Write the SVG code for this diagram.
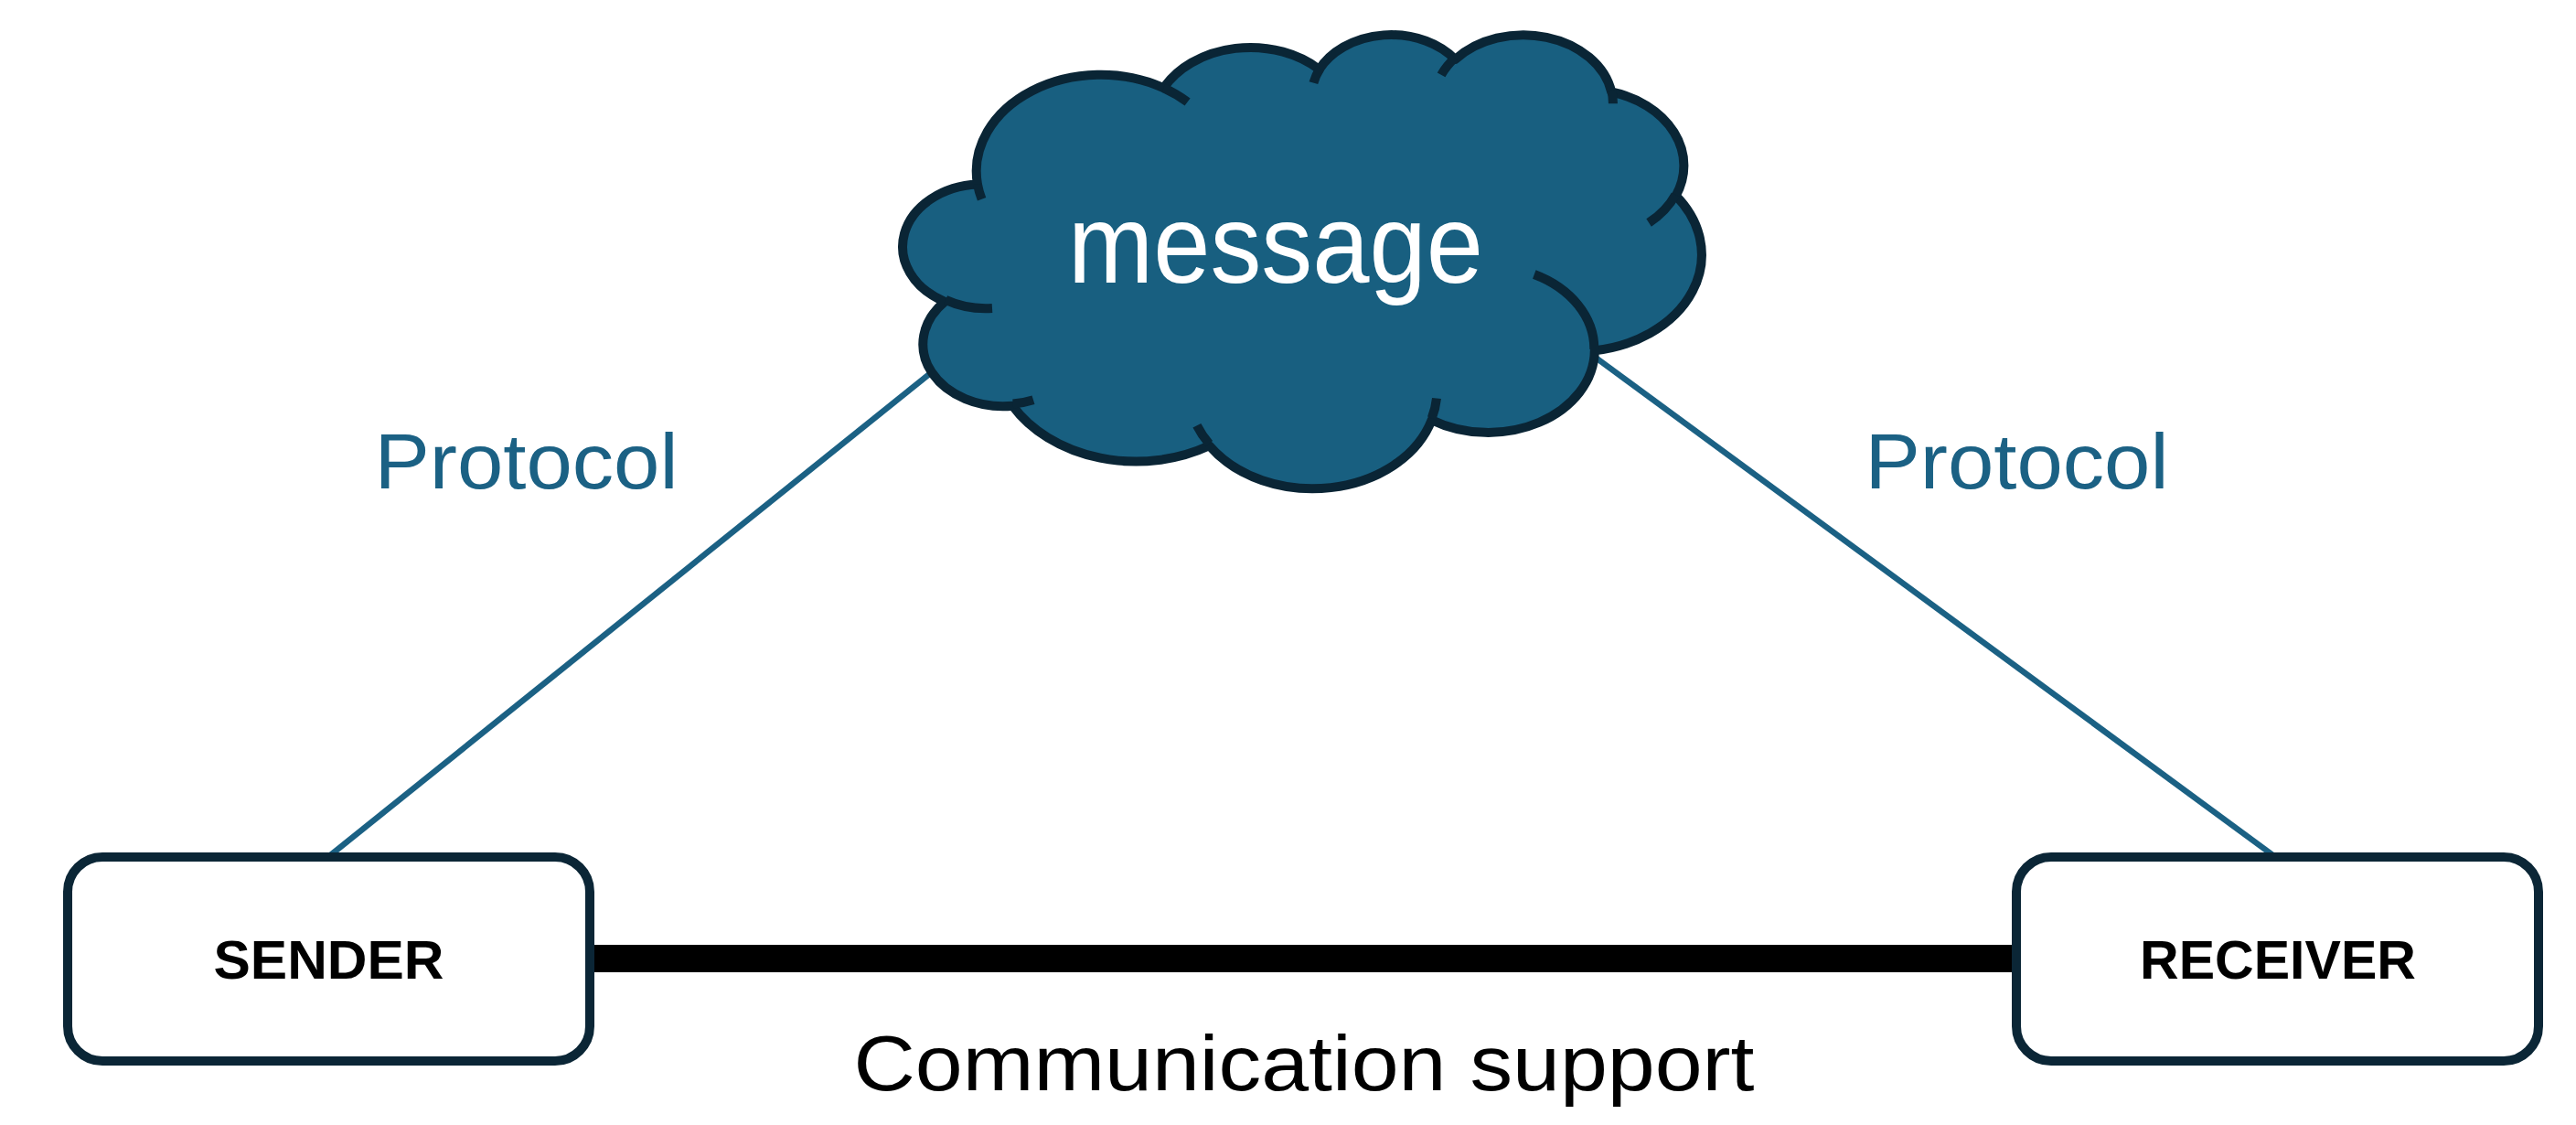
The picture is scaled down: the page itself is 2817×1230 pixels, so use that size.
<svg xmlns="http://www.w3.org/2000/svg" width="2817" height="1230" viewBox="0 0 2817 1230">
<style>
.lbl{font-family:"Liberation Sans",Arial,sans-serif;text-anchor:middle}
.proto{font-size:86px;fill:#1b6184}
.box{fill:#ffffff;stroke:#0b2636;stroke-width:10}
.boxtxt{font-size:60px;font-weight:bold;fill:#000000}
.link{stroke:#1b6184;stroke-width:6.5;fill:none}
.cloudline{stroke:#0a2535;stroke-width:10}
</style>
<rect x="0" y="0" width="2817" height="1230" fill="#ffffff"/>
<g id="connectors">
<line class="link" x1="360" y1="936" x2="1030" y2="398"/>
<line class="link" x1="2487" y1="936" x2="1730" y2="380"/>
<line x1="648" y1="1048" x2="2202" y2="1048" stroke="#000000" stroke-width="30"/>
</g>
<g id="message">
<path class="cloudline" d="M1069.0,201.5 A136.0,105.5 0 0 1 1272.5,96.2 A107.4,83.4 0 0 1 1442.7,75.9 A87.9,68.3 0 0 1 1591.3,65.0 A97.8,75.7 0 0 1 1762.2,100.5 A107.4,83.5 0 0 1 1832.7,214.0 A136.4,105.9 0 0 1 1743.8,383.3 A116.5,90.3 0 0 1 1565.6,459.2 A136.0,105.8 0 0 1 1322.4,487.3 A155.5,121.0 0 0 1 1107.4,443.7 A87.8,67.9 0 0 1 1033.1,329.8 A87.5,68.3 0 0 1 1069.0,201.5 Z" fill="#185f80" stroke-linejoin="round"/>
<path class="cloudline" d="M1085.0,337.0 A87.5,68.3 0 0 1 1034.0,327.9 M1130.0,437.2 A87.8,67.9 0 0 1 1107.7,441.6 M1322.3,485.3 A136.0,105.8 0 0 1 1308.9,465.3 M1571.0,435.5 A136.0,105.8 0 0 1 1565.7,457.4 M1677.8,300.0 A116.5,90.3 0 0 1 1743.3,382.0 M1832.3,212.8 A107.4,83.5 0 0 1 1803.1,243.5 M1762.3,98.8 A97.8,75.7 0 0 1 1763.9,113.3 M1576.1,81.9 A97.8,75.7 0 0 1 1591.0,63.4 M1436.4,90.7 A87.9,68.3 0 0 1 1443.6,74.7 M1272.4,96.1 A136.0,105.5 0 0 1 1298.6,111.6 M1073.6,217.8 A136.0,105.5 0 0 1 1069.0,201.5" fill="none"/>
<text class="lbl" x="1395" y="309" font-size="122" fill="#ffffff" textLength="454" lengthAdjust="spacingAndGlyphs">message</text>
</g>
<g id="sender">
<rect class="box" x="74" y="937" width="571" height="223" rx="38" ry="38"/>
<text class="lbl boxtxt" x="359.5" y="1070" textLength="252" lengthAdjust="spacingAndGlyphs">SENDER</text>
</g>
<g id="receiver">
<rect class="box" x="2205" y="937" width="571" height="223" rx="38" ry="38"/>
<text class="lbl boxtxt" x="2491" y="1070" textLength="302" lengthAdjust="spacingAndGlyphs">RECEIVER</text>
</g>
<g id="labels">
<text class="lbl proto" x="575.5" y="534" textLength="332" lengthAdjust="spacingAndGlyphs">Protocol</text>
<text class="lbl proto" x="2205.5" y="534" textLength="332" lengthAdjust="spacingAndGlyphs">Protocol</text>
<text class="lbl" x="1426" y="1192" font-size="86" fill="#000000" textLength="985" lengthAdjust="spacingAndGlyphs">Communication support</text>
</g>
</svg>
